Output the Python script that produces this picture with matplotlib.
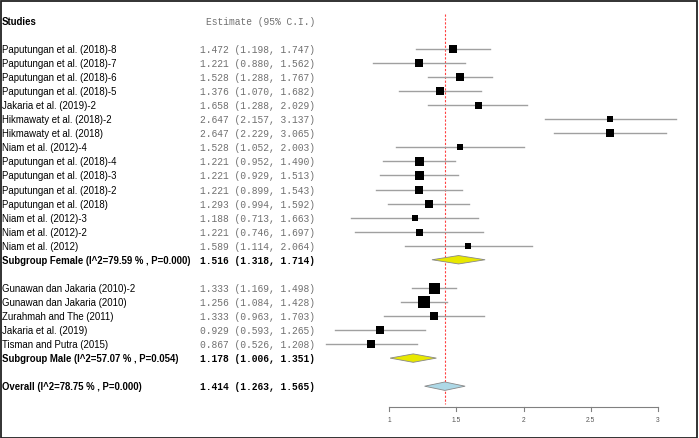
import matplotlib
matplotlib.use("Agg")
import matplotlib.pyplot as plt
from matplotlib.patches import Polygon, Rectangle
import matplotlib.transforms as mtransforms

# ---- data ---------------------------------------------------------------
female_studies = [
    "Paputungan et al. (2018)-8", "Paputungan et al. (2018)-7",
    "Paputungan et al. (2018)-6", "Paputungan et al. (2018)-5",
    "Jakaria et al. (2019)-2", "Hikmawaty et al. (2018)-2",
    "Hikmawaty et al. (2018)", "Niam et al. (2012)-4",
    "Paputungan et al. (2018)-4", "Paputungan et al. (2018)-3",
    "Paputungan et al. (2018)-2", "Paputungan et al. (2018)",
    "Niam et al. (2012)-3", "Niam et al. (2012)-2", "Niam et al. (2012)",
]
female_est = [1.472, 1.221, 1.528, 1.376, 1.658, 2.647, 2.647, 1.528,
              1.221, 1.221, 1.221, 1.293, 1.188, 1.221, 1.589]
female_lo = [1.198, 0.880, 1.288, 1.070, 1.288, 2.157, 2.229, 1.052,
             0.952, 0.929, 0.899, 0.994, 0.713, 0.746, 1.114]
female_hi = [1.747, 1.562, 1.767, 1.682, 2.029, 3.137, 3.065, 2.003,
             1.490, 1.513, 1.543, 1.592, 1.663, 1.697, 2.064]
female_w = [69, 59, 76, 53, 49, 45, 53, 40, 81, 81, 59, 69, 45, 49, 45]

male_studies = [
    "Gunawan dan Jakaria (2010)-2", "Gunawan dan Jakaria (2010)",
    "Zurahmah and The (2011)", "Jakaria et al. (2019)", "Tisman and Putra (2015)",
]
male_est = [1.333, 1.256, 1.333, 0.929, 0.867]
male_lo = [1.169, 1.084, 0.963, 0.593, 0.526]
male_hi = [1.498, 1.428, 1.703, 1.265, 1.208]
male_w = [121, 137, 53, 64, 64]

summary_labels = ["Subgroup Female (I^2=79.59 % , P=0.000)",
                  "Subgroup Male (I^2=57.07 % , P=0.054)",
                  "Overall (I^2=78.75 % , P=0.000)"]
summary_est = [1.516, 1.178, 1.414]
summary_lo = [1.318, 1.006, 1.263]
summary_hi = [1.714, 1.351, 1.565]

xticks = [1, 1.5, 2, 2.5, 3]

# ---- layout -------------------------------------------------------------
W, H = 699, 439
fig = plt.figure(figsize=(W / 100, H / 100), dpi=100)
ax = fig.add_axes([0, 0, 1, 1])
px_per_unit = 134.2
x0_px = 389.3
row0_px, row_px = 50, 14.05
ax.set_xlim(1 - x0_px / px_per_unit, 1 + (W - x0_px) / px_per_unit)
ax.set_ylim((H - row0_px) / row_px, -row0_px / row_px)
ax.axis("off")

trans = mtransforms.blended_transform_factory(ax.transAxes, ax.transData)
name_x = 2 / W
est_x = 315 / W
FS = 6.9
sans = "Liberation Sans"
mono = "Liberation Mono"
est_color = "#707070"

ax.text(name_x, -2, "Studies", transform=trans, fontsize=FS, family=sans,
        weight="bold", va="center", ha="left")
ax.text(est_x, -2, "Estimate (95% C.I.)", transform=trans, fontsize=FS,
        family=mono, color=est_color, va="center", ha="right")


def study_row(r, name, est, lo, hi, w):
    ax.text(name_x, r, name, transform=trans, fontsize=FS, family=sans,
            va="center", ha="left")
    ax.text(est_x, r, f"{est:.3f} ({lo:.3f}, {hi:.3f})", transform=trans,
            fontsize=FS, family=mono, color=est_color, va="center", ha="right")
    ax.plot([lo, hi], [r, r], color="#a0a0a0", lw=1.0, zorder=2)
    ax.plot(est, r, marker="s", color="black", ms=w ** 0.5 * 0.72,
            mew=0, zorder=3)


def summary_row(r, name, est, lo, hi, fc):
    ax.text(name_x, r, name, transform=trans, fontsize=FS, family=sans,
            weight="bold", va="center", ha="left")
    ax.text(est_x, r, f"{est:.3f} ({lo:.3f}, {hi:.3f})", transform=trans,
            fontsize=FS, family=mono, weight="bold", color="black",
            va="center", ha="right")
    hh = 0.3
    ax.add_patch(Polygon([[lo, r], [est, r - hh], [hi, r], [est, r + hh]],
                         closed=True, fc=fc, ec="#888888", lw=0.6, zorder=3))


rows = list(range(len(female_studies)))
for r, n, e, l, h, w in zip(rows, female_studies, female_est, female_lo,
                            female_hi, female_w):
    study_row(r, n, e, l, h, w)
r_fem = len(female_studies)
summary_row(r_fem, summary_labels[0], summary_est[0], summary_lo[0],
            summary_hi[0], "#e8e800")

start = r_fem + 2
for i, (n, e, l, h, w) in enumerate(zip(male_studies, male_est, male_lo,
                                        male_hi, male_w)):
    study_row(start + i, n, e, l, h, w)
r_male = start + len(male_studies)
summary_row(r_male, summary_labels[1], summary_est[1], summary_lo[1],
            summary_hi[1], "#e8e800")
r_all = r_male + 2
summary_row(r_all, summary_labels[2], summary_est[2], summary_lo[2],
            summary_hi[2], "#add8e6")

# reference line at overall estimate
ax.plot([summary_est[2]] * 2, [-2.5, r_all + 1.25], color="#ff4040",
        lw=0.8, ls=(0, (2, 1.5)), zorder=1)

# x axis
ya = r_all + 1.5
ax.plot([xticks[0], xticks[-1]], [ya, ya], color="#808080", lw=0.8)
for t in xticks:
    ax.plot([t, t], [ya, ya + 0.25], color="#808080", lw=0.8)
    ax.text(t, ya + 0.85, f"{t:g}", fontsize=4.8, family=sans,
            color="#555555", ha="center", va="center")

# frame around the picture
fig.patches.append(Rectangle((0.5 / W, 0.5 / H), 1 - 2.5 / W, 1 - 2.5 / H,
                             transform=fig.transFigure, fill=False,
                             ec="#222222", lw=1.3))

fig.savefig("out.png", dpi=100)
